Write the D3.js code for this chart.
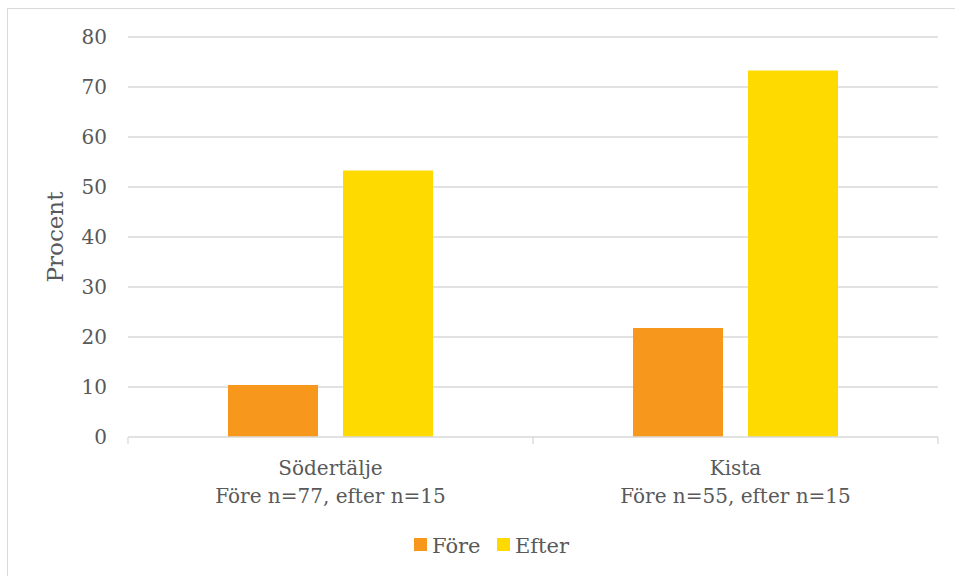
<!DOCTYPE html>
<html>
<head>
<meta charset="utf-8">
<script src="https://cdn.jsdelivr.net/npm/d3@7"></script>
<style>
  html, body { margin: 0; padding: 0; background: #fff; }
  svg { display: block; }
  text { font-family: "DejaVu Serif", Georgia, serif; fill: #595959; }
</style>
</head>
<body>
<svg id="chart" width="955" height="576"></svg>
<script>
// Andel (procent) före och efter, per ort
const categories = ["Södertälje", "Kista"];
const subtitles = ["Före n=77, efter n=15", "Före n=55, efter n=15"];
const seriesNames = ["Före", "Efter"];
const fore = [10.4, 21.8];
const efter = [53.3, 73.3];
const yTicks = [0, 10, 20, 30, 40, 50, 60, 70, 80];
const colors = ["#F7981D", "#FFDA00"];

const svg = d3.select("#chart");
const W = 955, H = 576;
const m = { left: 128, right: 17, top: 37, bottom: 139 };
const plotW = W - m.left - m.right;   // 810
const plotH = H - m.top - m.bottom;   // 400

// outer chart frame
svg.append("rect")
  .attr("x", 7.5).attr("y", 8.5)
  .attr("width", 960).attr("height", 600)
  .attr("fill", "none").attr("stroke", "#D9D9D9").attr("stroke-width", 1);

const g = svg.append("g").attr("transform", `translate(${m.left},${m.top})`);

const x0 = d3.scaleBand().domain(categories).range([0, plotW]).paddingInner(0).paddingOuter(0);
const x1 = d3.scaleBand().domain(seriesNames).range([100, x0.bandwidth() - 100]).paddingInner(25 / 115);
const y = d3.scaleLinear().domain([0, 80]).range([plotH, 0]);

// horizontal gridlines
g.append("g")
  .selectAll("line")
  .data(yTicks.filter(d => d > 0))
  .join("line")
  .attr("x1", 0).attr("x2", plotW)
  .attr("y1", d => y(d)).attr("y2", d => y(d))
  .attr("stroke", "#D9D9D9").attr("stroke-width", 1.3);

// y axis labels
const yAxis = g.append("g").call(d3.axisLeft(y).tickValues(yTicks).tickSize(0).tickPadding(21));
yAxis.select(".domain").remove();
yAxis.selectAll("text")
  .style("font-family", "DejaVu Serif, Georgia, serif")
  .style("font-size", "20px")
  .attr("fill", "#595959");

// bars
const data = categories.map((c, i) => ({ cat: c, values: [fore[i], efter[i]] }));
const groups = g.selectAll("g.cat")
  .data(data)
  .join("g")
  .attr("class", "cat")
  .attr("transform", d => `translate(${x0(d.cat)},0)`);

groups.selectAll("rect")
  .data(d => d.values.map((v, j) => ({ s: seriesNames[j], v, j })))
  .join("rect")
  .attr("x", d => x1(d.s))
  .attr("width", x1.bandwidth())
  .attr("y", d => y(d.v))
  .attr("height", d => y(0) - y(d.v))
  .attr("fill", d => colors[d.j]);

// x axis baseline with category separators
const xAxis = g.append("g").attr("transform", `translate(0,${plotH})`);
xAxis.append("line")
  .attr("x1", 0).attr("x2", plotW).attr("y1", 0).attr("y2", 0)
  .attr("stroke", "#D9D9D9").attr("stroke-width", 1.3);
xAxis.selectAll("line.sep")
  .data([0, plotW / 2, plotW])
  .join("line")
  .attr("class", "sep")
  .attr("x1", d => d).attr("x2", d => d)
  .attr("y1", 0).attr("y2", 7)
  .attr("stroke", "#D9D9D9").attr("stroke-width", 1.3);

// category labels (two lines)
const labels = xAxis.selectAll("text.cat")
  .data(categories)
  .join("text")
  .attr("class", "cat")
  .attr("text-anchor", "middle")
  .attr("x", d => x0(d) + x0.bandwidth() / 2)
  .style("font-size", "20px");
labels.append("tspan")
  .attr("x", d => x0(d) + x0.bandwidth() / 2)
  .attr("y", 38)
  .text(d => d);
labels.append("tspan")
  .attr("x", d => x0(d) + x0.bandwidth() / 2)
  .attr("y", 66)
  .text((d, i) => subtitles[i]);

// y axis title
svg.append("text")
  .attr("transform", `translate(63,${m.top + plotH / 2}) rotate(-90)`)
  .attr("text-anchor", "middle")
  .style("font-size", "23px")
  .text("Procent");

// legend
const legend = svg.append("g").attr("transform", "translate(414,545)");
const legendX = [0, 83];
seriesNames.forEach((s, i) => {
  const lg = legend.append("g").attr("transform", `translate(${legendX[i]},0)`);
  lg.append("rect").attr("x", 0).attr("y", -7).attr("width", 13).attr("height", 13).attr("fill", colors[i]);
  lg.append("text").attr("x", 18).attr("y", 8).style("font-size", "21px").text(s);
});
</script>
</body>
</html>
